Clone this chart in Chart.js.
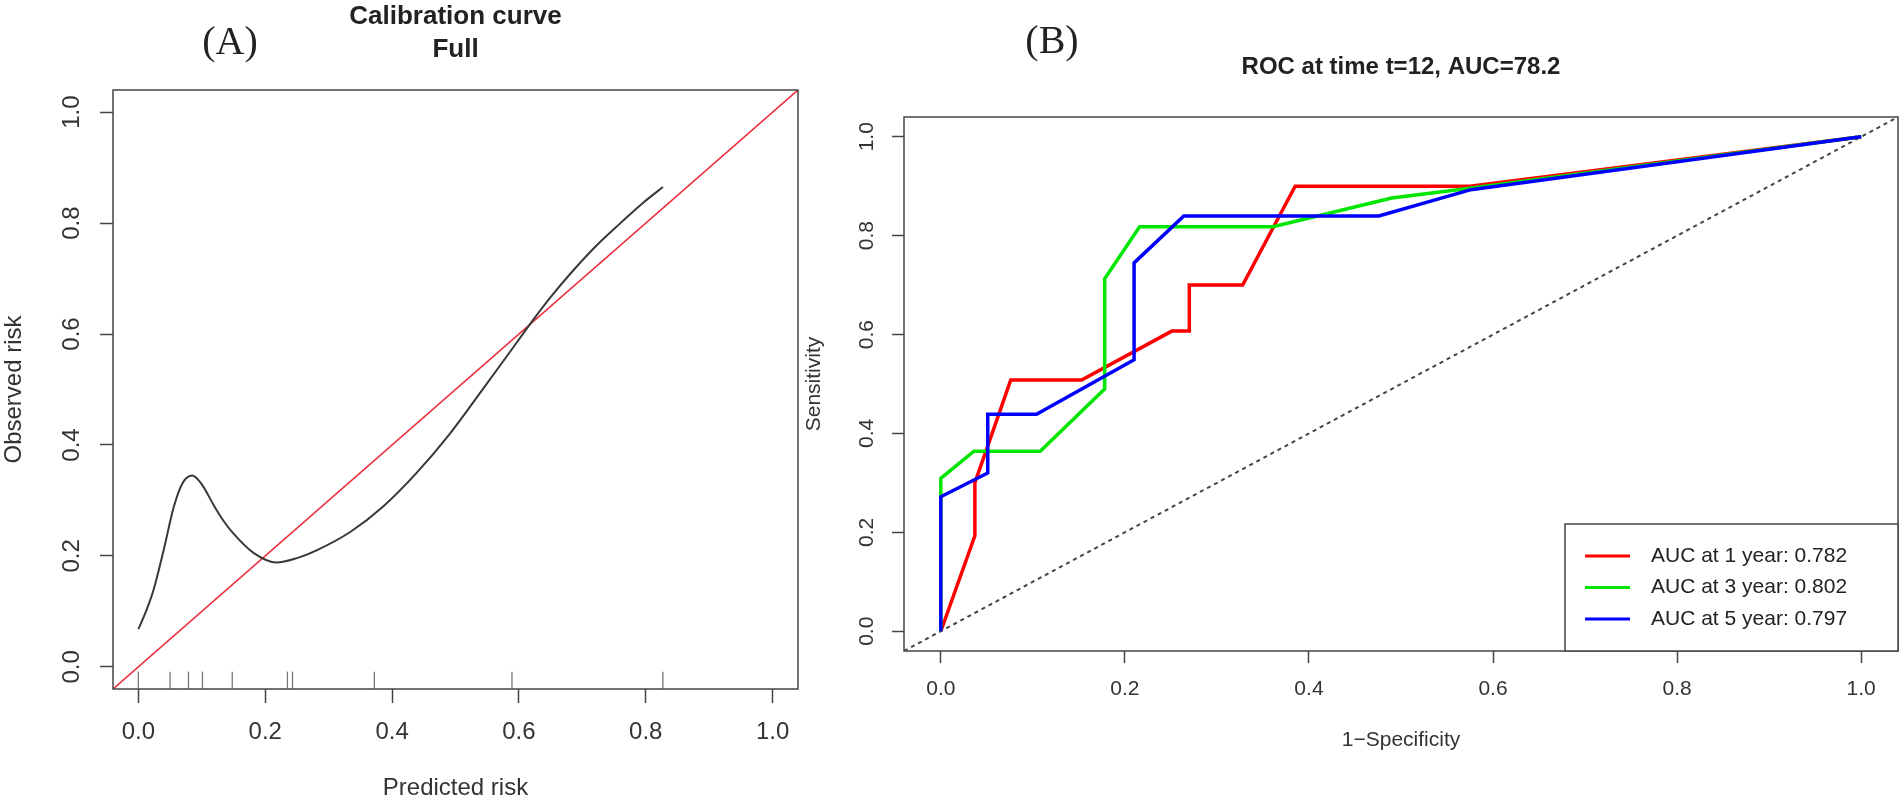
<!DOCTYPE html>
<html>
<head>
<meta charset="utf-8">
<script src="https://cdn.jsdelivr.net/npm/chart.js@4.4.1/dist/chart.umd.min.js"></script>
<style>
  html, body { margin: 0; padding: 0; background: #fff; }
  body { width: 1902px; height: 803px; position: relative; overflow: hidden; }
  .panel { position: absolute; top: 0; height: 803px; }
  #panelA { left: 0; width: 840px; }
  #panelB { left: 780px; width: 1122px; }
  .tag { position: absolute; font-family: "Liberation Serif", serif; font-size: 40px; color: #222; transform: translate(-50%, -50%); white-space: nowrap; }
</style>
</head>
<body>
<div class="panel" id="panelA"><canvas id="calChart"></canvas></div>
<div class="panel" id="panelB"><canvas id="rocChart"></canvas></div>
<div class="tag" style="left:230px;top:40px">(A)</div>
<div class="tag" style="left:1052px;top:39px">(B)</div>
<script>
// Shared axes
const AXIS_TICKS = [0, 0.2, 0.4, 0.6, 0.8, 1.0];
const AXIS_RANGE = [-0.04, 1.04];
const FONT = '"Liberation Sans", Arial, sans-serif';

// Panel A - calibration curve
const CAL_PRED = [0, 0.012, 0.024, 0.040, 0.056, 0.070, 0.085, 0.100, 0.119, 0.135, 0.150, 0.182, 0.218, 0.250,
                  0.281, 0.334, 0.386, 0.439, 0.491, 0.544, 0.586, 0.617, 0.649, 0.682, 0.720, 0.760, 0.795, 0.827];
const CAL_OBS = [0.068, 0.100, 0.139, 0.211, 0.289, 0.332, 0.345, 0.329, 0.291, 0.262, 0.240, 0.205, 0.188, 0.196,
                 0.210, 0.243, 0.289, 0.350, 0.420, 0.502, 0.568, 0.617, 0.665, 0.710, 0.757, 0.800, 0.836, 0.865];
const RUG_PRED = [0, 0.05, 0.079, 0.101, 0.148, 0.235, 0.243, 0.372, 0.589, 0.827];
const RUG_LEVEL = -0.024;

// Panel B - time dependent ROC
const ROC_LABELS = ['AUC at 1 year: 0.782', 'AUC at 3 year: 0.802', 'AUC at 5 year: 0.797'];
const ROC_COLORS = ['#ff0000', '#00e600', '#0000ff'];
const ROC_1Y_FPR = [0, 0.037, 0.037, 0.076, 0.153, 0.251, 0.270, 0.270, 0.328, 0.385, 0.575, 1];
const ROC_1Y_TPR = [0, 0.193, 0.300, 0.508, 0.508, 0.607, 0.607, 0.700, 0.700, 0.900, 0.900, 1];
const ROC_3Y_FPR = [0, 0, 0.036, 0.108, 0.178, 0.178, 0.216, 0.361, 0.490, 0.575, 1];
const ROC_3Y_TPR = [0, 0.309, 0.364, 0.364, 0.490, 0.713, 0.818, 0.818, 0.876, 0.896, 1];
const ROC_5Y_FPR = [0, 0, 0.051, 0.051, 0.104, 0.210, 0.210, 0.264, 0.476, 0.576, 1];
const ROC_5Y_TPR = [0, 0.272, 0.320, 0.439, 0.439, 0.549, 0.745, 0.840, 0.840, 0.893, 1];

const toPoints = (xs, ys) => xs.map((x, i) => ({ x: x, y: ys[i] }));

// R style box round the plot region
const plotFrame = {
    id: 'plotFrame',
    afterDatasetsDraw(chart, args, opts) {
        const { ctx, chartArea: { left, top, right, bottom } } = chart;
        ctx.save();
        ctx.strokeStyle = opts.color;
        ctx.lineWidth = opts.width;
        ctx.strokeRect(left, top, right - left, bottom - top);
        ctx.restore();
    }
};

// legend("bottomright") look-alike
const cornerLegend = {
    id: 'cornerLegend',
    afterDatasetsDraw(chart, args, opts) {
        if (!opts.display) return;
        const { ctx, chartArea } = chart;
        const items = chart.data.datasets.filter(ds => ds.label);
        const x0 = chartArea.right - opts.width;
        const y0 = chartArea.bottom - opts.height;
        ctx.save();
        ctx.fillStyle = '#fff';
        ctx.fillRect(x0, y0, opts.width, opts.height);
        ctx.strokeStyle = '#444';
        ctx.lineWidth = 1.5;
        ctx.strokeRect(x0, y0, opts.width, opts.height);
        ctx.font = opts.font;
        ctx.textBaseline = 'middle';
        items.forEach((ds, i) => {
            const y = y0 + opts.firstRow + i * opts.rowGap;
            ctx.strokeStyle = ds.borderColor;
            ctx.lineWidth = 3;
            ctx.beginPath();
            ctx.moveTo(x0 + 20, y);
            ctx.lineTo(x0 + 65, y);
            ctx.stroke();
            ctx.fillStyle = '#222';
            ctx.fillText(ds.label, x0 + 86, y);
        });
        ctx.restore();
    }
};

function riskAxis(o) {
    return {
        type: 'linear',
        min: AXIS_RANGE[0],
        max: AXIS_RANGE[1],
        afterBuildTicks: s => { s.ticks = AXIS_TICKS.map(v => ({ value: v })); },
        afterFit: o.fit,
        grid: { drawOnChartArea: false, drawTicks: true, tickLength: o.tickLength, tickColor: '#444', tickWidth: 1.5 },
        border: { display: false },
        ticks: {
            color: '#333',
            autoSkip: false,
            font: { family: FONT, size: o.size },
            padding: o.padding,
            minRotation: o.rot,
            maxRotation: o.rot,
            crossAlign: o.rot ? 'center' : 'near',
            callback: v => v.toFixed(1)
        },
        title: { display: true, text: o.title, color: '#333', font: { family: FONT, size: o.size }, padding: o.titlePad }
    };
}

Chart.defaults.font.family = FONT;

new Chart(document.getElementById('calChart'), {
    type: 'scatter',
    data: {
        datasets: [{
            data: toPoints(CAL_PRED, CAL_OBS),
            showLine: true,
            borderColor: '#383838',
            borderWidth: 2,
            pointRadius: 0,
            cubicInterpolationMode: 'monotone',
            order: 1
        }, {
            data: toPoints(AXIS_RANGE, AXIS_RANGE),
            showLine: true,
            borderColor: '#ee2a3a',
            borderWidth: 1.6,
            pointRadius: 0,
            order: 2
        }, {
            data: RUG_PRED.map(x => ({ x: x, y: RUG_LEVEL })),
            showLine: false,
            pointStyle: 'line',
            rotation: 90,
            pointRadius: 8.5,
            pointBorderWidth: 1.3,
            pointBorderColor: '#777',
            order: 3
        }]
    },
    options: {
        responsive: true,
        maintainAspectRatio: false,
        animation: false,
        events: [],
        layout: { padding: { left: 0, right: 42, top: 0, bottom: 0 } },
        scales: {
            x: riskAxis({ title: 'Predicted risk', size: 24, tickLength: 14, padding: 15, rot: 0,
                          titlePad: { top: 0, bottom: 0 }, fit: s => { s.height = 114; } }),
            y: riskAxis({ title: 'Observed risk', size: 24, tickLength: 13, padding: 11, rot: 90,
                          titlePad: { top: 0, bottom: 0 }, fit: s => { s.width = 113; } })
        },
        plugins: {
            legend: { display: false },
            tooltip: { enabled: false },
            title: {
                display: true,
                fullSize: false,
                text: ['Calibration curve', 'Full'],
                color: '#222',
                font: { family: FONT, size: 26, weight: 'bold', lineHeight: '33px' },
                padding: { top: 0, bottom: 24 }
            },
            plotFrame: { color: '#444', width: 1.5 },
            cornerLegend: { display: false }
        }
    },
    plugins: [plotFrame, cornerLegend]
});

const rocSets = [
    toPoints(ROC_1Y_FPR, ROC_1Y_TPR),
    toPoints(ROC_3Y_FPR, ROC_3Y_TPR),
    toPoints(ROC_5Y_FPR, ROC_5Y_TPR)
].map((pts, i) => ({
    label: ROC_LABELS[i],
    data: pts,
    showLine: true,
    borderColor: ROC_COLORS[i],
    borderWidth: 3.5,
    pointRadius: 0,
    order: 3 - i
}));

new Chart(document.getElementById('rocChart'), {
    type: 'scatter',
    data: {
        datasets: rocSets.concat([{
            data: toPoints(AXIS_RANGE, AXIS_RANGE),
            showLine: true,
            borderColor: '#444',
            borderWidth: 2,
            borderDash: [4, 4],
            pointRadius: 0,
            order: 4
        }])
    },
    options: {
        responsive: true,
        maintainAspectRatio: false,
        animation: false,
        events: [],
        layout: { padding: { left: 0, right: 4, top: 0, bottom: 0 } },
        scales: {
            x: riskAxis({ title: '1\u2212Specificity', size: 21, tickLength: 12, padding: 14, rot: 0,
                          titlePad: { top: 0, bottom: 50 }, fit: s => { s.height = 152; } }),
            y: riskAxis({ title: 'Sensitivity', size: 21, tickLength: 12, padding: 10, rot: 90,
                          titlePad: { top: 22, bottom: 0 }, fit: s => { s.width = 124; } })
        },
        plugins: {
            legend: { display: false },
            tooltip: { enabled: false },
            title: {
                display: true,
                fullSize: false,
                text: 'ROC at time t=12, AUC=78.2',
                color: '#222',
                font: { family: FONT, size: 24, weight: 'bold', lineHeight: '29px' },
                padding: { top: 53, bottom: 35 }
            },
            plotFrame: { color: '#444', width: 1.5 },
            cornerLegend: {
                display: true,
                width: 333,
                height: 127,
                firstRow: 32,
                rowGap: 31.5,
                font: '21px ' + FONT
            }
        }
    },
    plugins: [plotFrame, cornerLegend]
});
</script>
</body>
</html>
